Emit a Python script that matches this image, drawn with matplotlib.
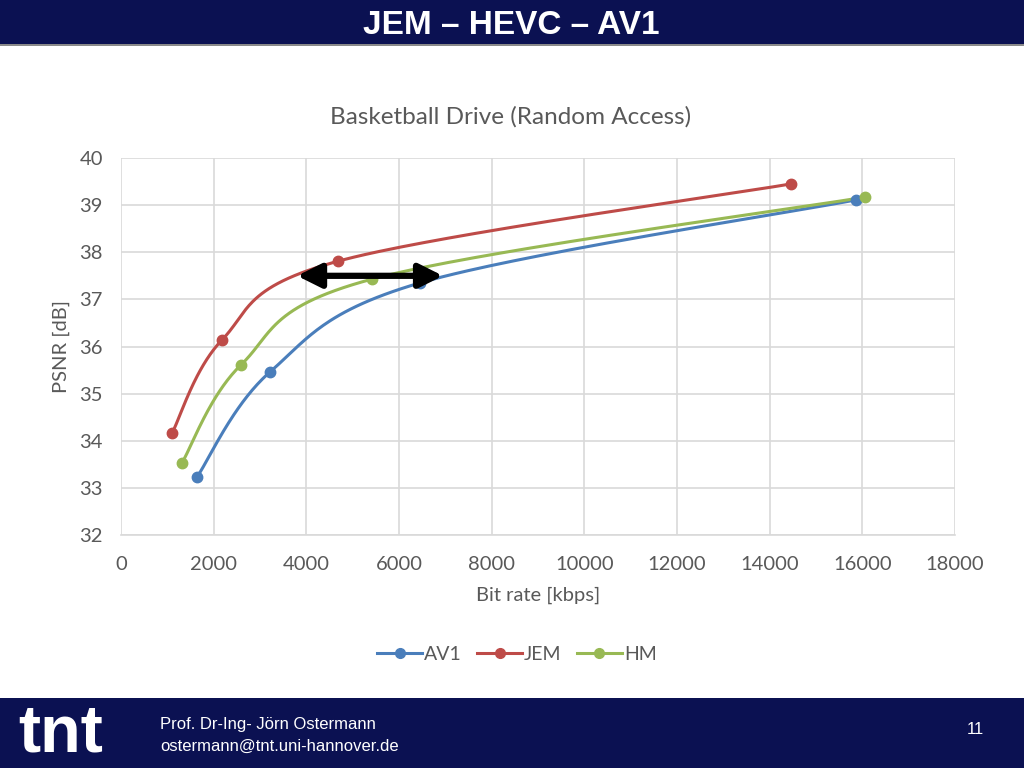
import matplotlib.pyplot as plt
import numpy as np
from matplotlib.patches import Rectangle

# bit rate [kbps] / PSNR [dB]
av1_rate = [1640, 3216, 6453, 15863]
av1_psnr = [33.23, 35.46, 37.35, 39.11]
jem_rate = [1101, 2180, 4683, 14460]
jem_psnr = [34.16, 36.14, 37.81, 39.45]
hm_rate = [1316, 2590, 5417, 16058]
hm_psnr = [33.53, 35.61, 37.43, 39.17]
arrow_x = [3800, 6950]
arrow_y = 37.5


def excel_smooth(x, y, n=60):
    # Catmull-Rom style bezier like Excel's smoothed lines
    x = np.asarray(x, float)
    y = np.asarray(y, float)
    px, py = [], []
    for i in range(len(x) - 1):
        x0, y0 = (x[i - 1], y[i - 1]) if i > 0 else (x[i], y[i])
        x3, y3 = (x[i + 2], y[i + 2]) if i + 2 < len(x) else (x[i + 1], y[i + 1])
        c1x = x[i] + (x[i + 1] - x0) / 6
        c1y = y[i] + (y[i + 1] - y0) / 6
        c2x = x[i + 1] - (x3 - x[i]) / 6
        c2y = y[i + 1] - (y3 - y[i]) / 6
        t = np.linspace(0, 1, n)
        b0, b1, b2, b3 = (1 - t) ** 3, 3 * t * (1 - t) ** 2, 3 * t ** 2 * (1 - t), t ** 3
        px.extend(b0 * x[i] + b1 * c1x + b2 * c2x + b3 * x[i + 1])
        py.extend(b0 * y[i] + b1 * c1y + b2 * c2y + b3 * y[i + 1])
    return px, py


W, H = 1024, 768
fig = plt.figure(figsize=(W / 100, H / 100), dpi=100)
fig.patch.set_facecolor("white")
navy = "#0b1152"
gray = "#595959"
font = ["Lato", "DejaVu Sans"]
arial = ["Liberation Sans Narrow", "Liberation Sans", "DejaVu Sans"]

# header + footer bands
fig.patches.append(Rectangle((0, 1 - 44 / H), 1, 44 / H, transform=fig.transFigure,
                             facecolor=navy, edgecolor="none", zorder=0))
fig.patches.append(Rectangle((0, 1 - 46 / H), 1, 2 / H, transform=fig.transFigure,
                             facecolor="#8a8a8a", edgecolor="none", zorder=0))
fig.patches.append(Rectangle((0, 0), 1, 70 / H, transform=fig.transFigure,
                             facecolor=navy, edgecolor="none", zorder=0))
fig.text(511 / W, 1 - 25 / H, "JEM \u2013 HEVC \u2013 AV1", color="white",
         fontsize=24, fontweight="bold", ha="center", va="center", family=arial)
fig.text(18 / W, 1 - 766 / H, "tnt", color="white", fontsize=48, fontweight="bold",
         ha="left", va="bottom", family=arial)
fig.text(160 / W, 1 - 725 / H, "Prof. Dr-Ing- J\u00f6rn Ostermann", color="white",
         fontsize=12, ha="left", va="center", family=arial)
fig.text(160 / W, 1 - 746 / H, "ostermann@tnt.uni-hannover.de", color="white",
         fontsize=12, ha="left", va="center", family=arial)
fig.text(975 / W, 1 - 730 / H, "11", color="white", fontsize=12, ha="center",
         va="center", family=arial)

ax = fig.add_axes([121 / W, 1 - 535 / H, (955 - 121) / W, (535 - 158) / H])
ax.set_xlim(0, 18000)
ax.set_ylim(32, 40)
ax.set_xticks(np.arange(0, 18001, 2000))
ax.set_yticks(np.arange(32, 41, 1))
ax.grid(True, color="#d9d9d9", lw=1.2)
ax.set_axisbelow(True)
for s in ax.spines.values():
    s.set_visible(False)
ax.spines["bottom"].set_visible(True)
ax.spines["bottom"].set_color("#d9d9d9")
ax.spines["bottom"].set_linewidth(1.2)
ax.tick_params(length=0, labelsize=14.5, labelcolor=gray)
ax.tick_params(axis="x", pad=15)
ax.tick_params(axis="y", pad=13)
for lab in ax.get_xticklabels() + ax.get_yticklabels():
    lab.set_family(font)

series = [("AV1", av1_rate, av1_psnr, "#4a7ebb"),
          ("JEM", jem_rate, jem_psnr, "#be4b48"),
          ("HM", hm_rate, hm_psnr, "#98b954")]
for name, xr, yr, c in series:
    sx, sy = excel_smooth(xr, yr)
    ax.plot(sx, sy, color=c, lw=2.2, zorder=3)
    ax.plot(xr, yr, "o", color=c, ms=7.5, zorder=4)
    ax.plot([], [], "-o", color=c, lw=2.2, ms=7, label=name)

ax.annotate("", xy=(arrow_x[0], arrow_y), xytext=(arrow_x[1], arrow_y),
            arrowprops=dict(arrowstyle="<|-|>", color="black", lw=4.5,
                            mutation_scale=36, shrinkA=0, shrinkB=0), zorder=5)

fig.text(511 / W, 1 - 117 / H, "Basketball Drive (Random Access)", color=gray,
         fontsize=17.5, family=font, ha="center", va="center")
ax.set_xlabel("Bit rate [kbps]", color=gray, fontsize=14.5, family=font, labelpad=10)
ax.set_ylabel("PSNR [dB]", color=gray, fontsize=14.5, family=font, labelpad=7)

leg = fig.legend(*ax.get_legend_handles_labels(), loc="center",
                 bbox_to_anchor=(517 / W, 1 - 654 / H),
                 ncol=3, frameon=False, handlelength=2.3,
                 columnspacing=0.8, handletextpad=0.1, prop={"family": font, "size": 14})
for t in leg.get_texts():
    t.set_color(gray)

fig.savefig("out.png", dpi=100, facecolor=fig.get_facecolor())
